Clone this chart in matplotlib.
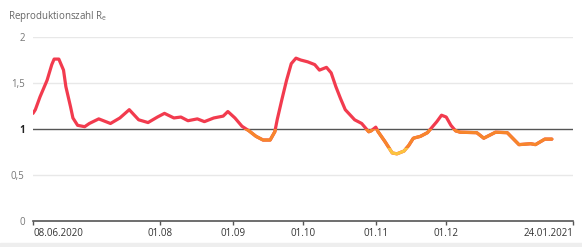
import pandas as pd
import numpy as np
import matplotlib.pyplot as plt
from matplotlib.patches import Rectangle

plt.rcParams['font.family'] = ['Open Sans', 'DejaVu Sans']

# values
dates = ["2020-06-08", "2020-06-09", "2020-06-11", "2020-06-14", "2020-06-16",
         "2020-06-17", "2020-06-19", "2020-06-21", "2020-06-22", "2020-06-24",
         "2020-06-25", "2020-06-27", "2020-06-30", "2020-07-02", "2020-07-06",
         "2020-07-11", "2020-07-15", "2020-07-19", "2020-07-23", "2020-07-27",
         "2020-07-31", "2020-08-03", "2020-08-07", "2020-08-10", "2020-08-13",
         "2020-08-17", "2020-08-20", "2020-08-24", "2020-08-28", "2020-08-30",
         "2020-09-02", "2020-09-05", "2020-09-08", "2020-09-11", "2020-09-14",
         "2020-09-17", "2020-09-19", "2020-09-20", "2020-09-22", "2020-09-24",
         "2020-09-26", "2020-09-28", "2020-09-30", "2020-10-03", "2020-10-06",
         "2020-10-08", "2020-10-11", "2020-10-13", "2020-10-15", "2020-10-17",
         "2020-10-19", "2020-10-23", "2020-10-26", "2020-10-29", "2020-10-30",
         "2020-11-01", "2020-11-02", "2020-11-05", "2020-11-08", "2020-11-10",
         "2020-11-13", "2020-11-15", "2020-11-17", "2020-11-20", "2020-11-23",
         "2020-11-25", "2020-11-27", "2020-11-29", "2020-12-01", "2020-12-03",
         "2020-12-05", "2020-12-07", "2020-12-14", "2020-12-17", "2020-12-22",
         "2020-12-27", "2021-01-01", "2021-01-06", "2021-01-08", "2021-01-12",
         "2021-01-15"]
r_values = [1.17, 1.21, 1.35, 1.53, 1.70,
            1.76, 1.76, 1.64, 1.46, 1.24,
            1.12, 1.04, 1.025, 1.06, 1.11,
            1.06, 1.12, 1.21, 1.10, 1.07,
            1.13, 1.17, 1.12, 1.13, 1.09,
            1.11, 1.08, 1.12, 1.14, 1.19,
            1.12, 1.03, 0.98, 0.92, 0.88,
            0.88, 0.97, 1.10, 1.32, 1.53,
            1.71, 1.77, 1.75, 1.73, 1.70,
            1.64, 1.67, 1.61, 1.46, 1.33,
            1.21, 1.10, 1.06, 0.97, 0.98,
            1.02, 0.97, 0.86, 0.74, 0.73,
            0.76, 0.82, 0.90, 0.92, 0.96,
            1.02, 1.08, 1.15, 1.13, 1.04,
            0.98, 0.965, 0.96, 0.90, 0.965,
            0.96, 0.83, 0.84, 0.83, 0.89,
            0.89]

y_ticks = [0, 0.5, 1, 1.5, 2]
y_labels = ["0", "0,5", "1", "1,5", "2"]
x_ticks = ["2020-06-08", "2020-08-01", "2020-09-01", "2020-10-01",
           "2020-11-01", "2020-12-01", "2021-01-24"]
x_labels = ["08.06.2020", "01.08", "01.09", "01.10", "01.11", "01.12", "24.01.2021"]

x = pd.to_datetime(dates)
red = "#f23b4e"
orange = "#f7862c"
yellow = "#fcc43e"

fig = plt.figure(figsize=(5.82, 2.47), dpi=100)
ax = fig.add_axes([33 / 582, 1 - 221 / 247, 540 / 582, 184 / 247])

ax.set_xlim(pd.Timestamp(x_ticks[0]), pd.Timestamp(x_ticks[-1]))
ax.set_ylim(0, 2)

for yv in [0.5, 1.5, 2]:
    ax.axhline(yv, color="#e8e8e8", lw=1, zorder=1)
ax.axhline(1, color="#555555", lw=1, zorder=2)

# same line drawn three times, clipped to value bands
bands = [(red, None, None), (orange, 0.79, 1.0), (yellow, -1, 0.79)]
for col, lo, hi in bands:
    line, = ax.plot(x, r_values, color=col, lw=2.3, solid_capstyle="round",
                    solid_joinstyle="round", zorder=3)
    if lo is not None:
        clip = Rectangle((0, lo), 1e6, hi - lo, transform=ax.transData)
        line.set_clip_path(clip)

for s in ["top", "right", "left"]:
    ax.spines[s].set_visible(False)
ax.spines["bottom"].set_color("#555555")
ax.spines["bottom"].set_linewidth(1.2)

ax.set_yticks(y_ticks)
ax.set_yticklabels(y_labels)
ax.tick_params(axis="y", length=0, pad=6, labelsize=7, labelcolor="#777777")
ax.get_yticklabels()[2].set_color("#222222")
ax.get_yticklabels()[2].set_fontweight("bold")

ax.set_xticks(pd.to_datetime(x_ticks))
ax.set_xticklabels(x_labels)
ax.tick_params(axis="x", length=3, width=1, color="#555555", pad=2,
               labelsize=7, labelcolor="#333333")
xl = ax.get_xticklabels()
xl[0].set_horizontalalignment("left")
xl[-1].set_horizontalalignment("right")

fig.text(8 / 582, 1 - 17 / 247, "Reproduktionszahl R$_\\mathregular{e}$",
         fontsize=7, color="#666666", va="center")

fig.patches.append(Rectangle((0, 0), 1, 4 / 247, transform=fig.transFigure,
                             color="#eeeeee", zorder=0))

plt.savefig("out.png", dpi=100)
